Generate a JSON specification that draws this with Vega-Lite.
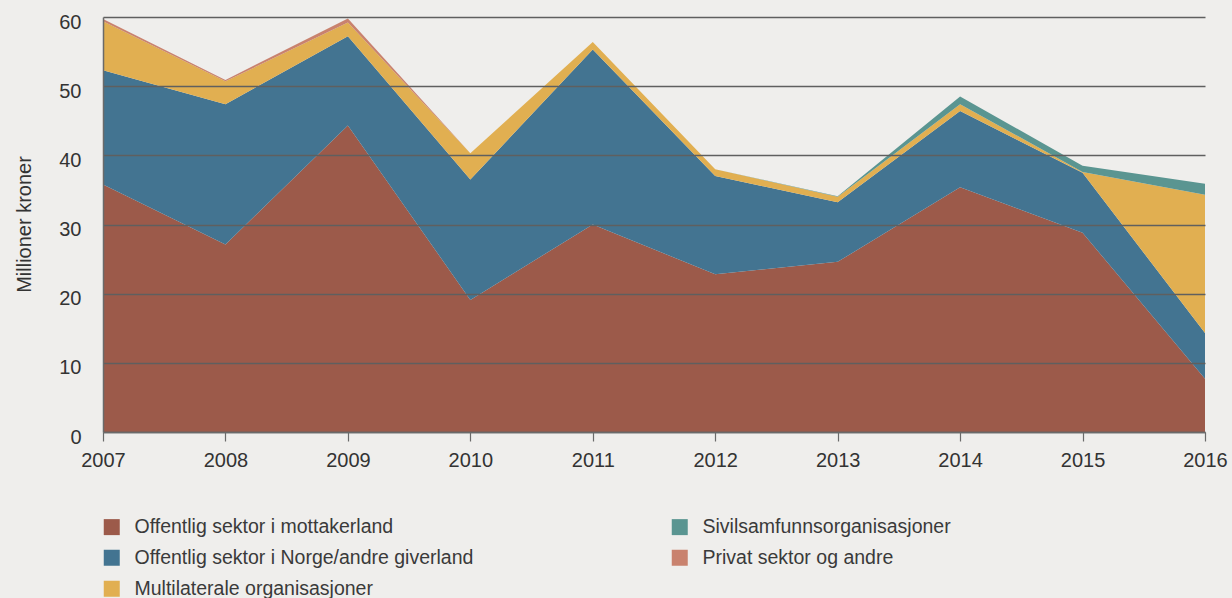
{
  "$schema": "https://vega.github.io/schema/vega-lite/v6.json",
  "autosize": {"type": "none"},
  "padding": {"left": 103, "top": 17, "right": 27, "bottom": 166},
  "width": 1102,
  "height": 415,
  "background": "#EFEEEC",
  "config": {
    "view": {"stroke": null},
    "font": "Liberation Sans"
  },
  "data": {
    "values": [
      {"year": 2007, "cat": "Offentlig sektor i mottakerland", "ord": 1, "value": 35.8},
      {"year": 2008, "cat": "Offentlig sektor i mottakerland", "ord": 1, "value": 27.1},
      {"year": 2009, "cat": "Offentlig sektor i mottakerland", "ord": 1, "value": 44.3},
      {"year": 2010, "cat": "Offentlig sektor i mottakerland", "ord": 1, "value": 19.1},
      {"year": 2011, "cat": "Offentlig sektor i mottakerland", "ord": 1, "value": 30.0},
      {"year": 2012, "cat": "Offentlig sektor i mottakerland", "ord": 1, "value": 22.8},
      {"year": 2013, "cat": "Offentlig sektor i mottakerland", "ord": 1, "value": 24.6},
      {"year": 2014, "cat": "Offentlig sektor i mottakerland", "ord": 1, "value": 35.4},
      {"year": 2015, "cat": "Offentlig sektor i mottakerland", "ord": 1, "value": 28.8},
      {"year": 2016, "cat": "Offentlig sektor i mottakerland", "ord": 1, "value": 7.7},
      {"year": 2007, "cat": "Offentlig sektor i Norge/andre giverland", "ord": 2, "value": 16.5},
      {"year": 2008, "cat": "Offentlig sektor i Norge/andre giverland", "ord": 2, "value": 20.3},
      {"year": 2009, "cat": "Offentlig sektor i Norge/andre giverland", "ord": 2, "value": 12.9},
      {"year": 2010, "cat": "Offentlig sektor i Norge/andre giverland", "ord": 2, "value": 17.4},
      {"year": 2011, "cat": "Offentlig sektor i Norge/andre giverland", "ord": 2, "value": 25.3},
      {"year": 2012, "cat": "Offentlig sektor i Norge/andre giverland", "ord": 2, "value": 14.2},
      {"year": 2013, "cat": "Offentlig sektor i Norge/andre giverland", "ord": 2, "value": 8.6},
      {"year": 2014, "cat": "Offentlig sektor i Norge/andre giverland", "ord": 2, "value": 11.0},
      {"year": 2015, "cat": "Offentlig sektor i Norge/andre giverland", "ord": 2, "value": 8.7},
      {"year": 2016, "cat": "Offentlig sektor i Norge/andre giverland", "ord": 2, "value": 6.6},
      {"year": 2007, "cat": "Multilaterale organisasjoner", "ord": 3, "value": 7.1},
      {"year": 2008, "cat": "Multilaterale organisasjoner", "ord": 3, "value": 3.3},
      {"year": 2009, "cat": "Multilaterale organisasjoner", "ord": 3, "value": 2.0},
      {"year": 2010, "cat": "Multilaterale organisasjoner", "ord": 3, "value": 3.8},
      {"year": 2011, "cat": "Multilaterale organisasjoner", "ord": 3, "value": 1.1},
      {"year": 2012, "cat": "Multilaterale organisasjoner", "ord": 3, "value": 1.0},
      {"year": 2013, "cat": "Multilaterale organisasjoner", "ord": 3, "value": 0.8},
      {"year": 2014, "cat": "Multilaterale organisasjoner", "ord": 3, "value": 1.0},
      {"year": 2015, "cat": "Multilaterale organisasjoner", "ord": 3, "value": 0.1},
      {"year": 2016, "cat": "Multilaterale organisasjoner", "ord": 3, "value": 20.0},
      {"year": 2007, "cat": "Sivilsamfunnsorganisasjoner", "ord": 4, "value": 0},
      {"year": 2008, "cat": "Sivilsamfunnsorganisasjoner", "ord": 4, "value": 0},
      {"year": 2009, "cat": "Sivilsamfunnsorganisasjoner", "ord": 4, "value": 0},
      {"year": 2010, "cat": "Sivilsamfunnsorganisasjoner", "ord": 4, "value": 0},
      {"year": 2011, "cat": "Sivilsamfunnsorganisasjoner", "ord": 4, "value": 0},
      {"year": 2012, "cat": "Sivilsamfunnsorganisasjoner", "ord": 4, "value": 0},
      {"year": 2013, "cat": "Sivilsamfunnsorganisasjoner", "ord": 4, "value": 0.1},
      {"year": 2014, "cat": "Sivilsamfunnsorganisasjoner", "ord": 4, "value": 1.1},
      {"year": 2015, "cat": "Sivilsamfunnsorganisasjoner", "ord": 4, "value": 0.9},
      {"year": 2016, "cat": "Sivilsamfunnsorganisasjoner", "ord": 4, "value": 1.6},
      {"year": 2007, "cat": "Privat sektor og andre", "ord": 5, "value": 0.3},
      {"year": 2008, "cat": "Privat sektor og andre", "ord": 5, "value": 0.2},
      {"year": 2009, "cat": "Privat sektor og andre", "ord": 5, "value": 0.6},
      {"year": 2010, "cat": "Privat sektor og andre", "ord": 5, "value": 0},
      {"year": 2011, "cat": "Privat sektor og andre", "ord": 5, "value": 0},
      {"year": 2012, "cat": "Privat sektor og andre", "ord": 5, "value": 0},
      {"year": 2013, "cat": "Privat sektor og andre", "ord": 5, "value": 0},
      {"year": 2014, "cat": "Privat sektor og andre", "ord": 5, "value": 0},
      {"year": 2015, "cat": "Privat sektor og andre", "ord": 5, "value": 0},
      {"year": 2016, "cat": "Privat sektor og andre", "ord": 5, "value": 0}
    ]
  },
  "mark": {"type": "area", "interpolate": "linear"},
  "encoding": {
    "x": {
      "field": "year",
      "type": "quantitative",
      "scale": {"domain": [2007, 2016], "nice": false, "zero": false},
      "axis": {
        "title": null,
        "values": [2007, 2008, 2009, 2010, 2011, 2012, 2013, 2014, 2015, 2016],
        "format": "d",
        "grid": false,
        "domainColor": "#6a6a6a",
        "domainWidth": 1.5,
        "tickColor": "#6a6a6a",
        "tickWidth": 1.2,
        "tickSize": 9,
        "labelPadding": 9,
        "labelFont": "Liberation Sans",
        "labelFontSize": 20,
        "labelColor": "#333333",
        "labelFlush": false,
        "zindex": 2
      }
    },
    "y": {
      "field": "value",
      "type": "quantitative",
      "stack": "zero",
      "scale": {"domain": [0, 60], "nice": false},
      "axis": {
        "title": "Millioner kroner",
        "values": [0, 10, 20, 30, 40, 50, 60],
        "grid": true,
        "gridColor": "#5f5f5f",
        "gridWidth": 1.3,
        "ticks": false,
        "domainColor": "#6a6a6a",
        "domainWidth": 1.5,
        "labelPadding": 22,
        "labelOffset": 5,
        "labelFont": "Liberation Sans",
        "labelFontSize": 20,
        "labelColor": "#333333",
        "titleFont": "Liberation Sans",
        "titleFontSize": 20,
        "titleFontWeight": "normal",
        "titleColor": "#333333",
        "titleAngle": -90,
        "titleAlign": "center",
        "titleBaseline": "middle",
        "titleX": -79,
        "titleY": 207,
        "zindex": 1
      }
    },
    "color": {
      "field": "cat",
      "type": "nominal",
      "scale": {
        "domain": [
          "Offentlig sektor i mottakerland",
          "Offentlig sektor i Norge/andre giverland",
          "Multilaterale organisasjoner",
          "Sivilsamfunnsorganisasjoner",
          "Privat sektor og andre"
        ],
        "range": ["#9C5A4A", "#437491", "#E1AF51", "#5A9591", "#C9826E"]
      },
      "legend": {
        "title": null,
        "orient": "none",
        "legendX": -1,
        "legendY": 500,
        "columns": 2,
        "columnPadding": 196,
        "rowPadding": 10,
        "symbolType": "square",
        "symbolSize": 256,
        "symbolStrokeWidth": 0,
        "symbolOpacity": 1,
        "labelOffset": 13,
        "labelFont": "Liberation Sans",
        "labelFontSize": 19.5,
        "labelColor": "#3a3a3a",
        "labelLimit": 500
      }
    },
    "order": {"field": "ord", "type": "quantitative"}
  }
}
